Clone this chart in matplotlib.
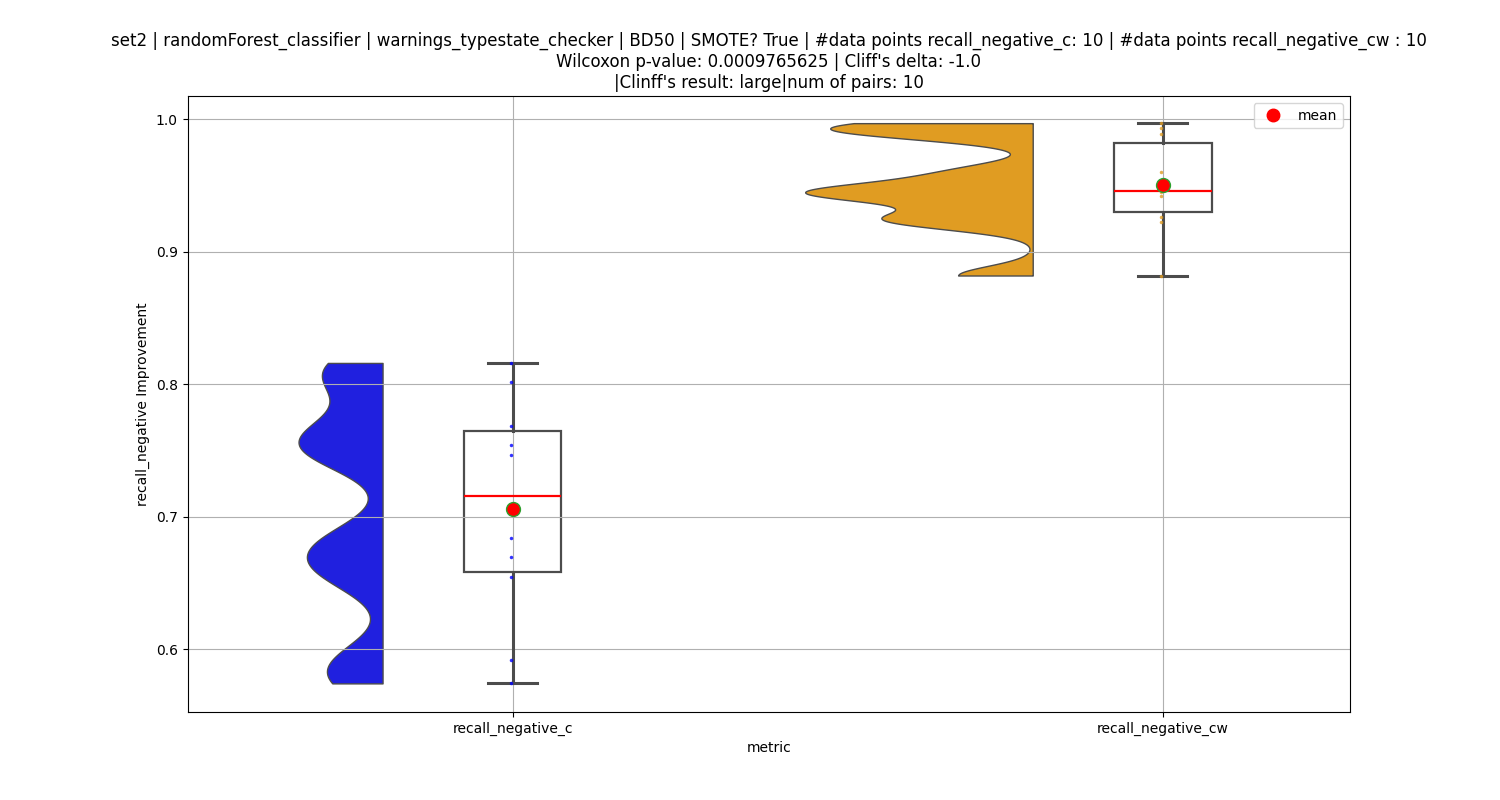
import matplotlib
import numpy as np

matplotlib.use("Agg")
import matplotlib.pyplot as plt
from matplotlib.lines import Line2D

categories = ["recall_negative_c", "recall_negative_cw"]
values_c = [0.816, 0.8015, 0.7685, 0.7537, 0.7464, 0.684, 0.6694, 0.6546, 0.5919, 0.5741]
values_cw = [0.997, 0.993, 0.989, 0.960, 0.9465, 0.945, 0.942, 0.926, 0.9225, 0.882]
colors = ["#2020df", "#e09c22"]
title = ("set2 | randomForest_classifier | warnings_typestate_checker | BD50 | SMOTE? True | "
         "#data points recall_negative_c: 10 | #data points recall_negative_cw : 10\n"
         "Wilcoxon p-value: 0.0009765625 | Cliff's delta: -1.0\n"
         "|Clinff's result: large|num of pairs: 10")

BW = 0.2
VIOL_HALF = 0.35
VIOL_OFFSET = 0.2
BOX_W = 0.15


# kde like scipy gaussian_kde(bw_method=0.2), cut at data range
def kde(data, n=300):
    data = np.asarray(data)
    bw = BW * data.std(ddof=1)
    grid = np.linspace(data.min(), data.max(), n)
    dens = np.exp(-0.5 * ((grid[:, None] - data[None, :]) / bw) ** 2).sum(axis=1)
    dens /= len(data) * bw * np.sqrt(2 * np.pi)
    return grid, dens


def main():
    fig, ax = plt.subplots(figsize=(15, 8), dpi=100)
    all_data = [values_c, values_cw]
    kdes = [kde(d) for d in all_data]
    dmax = max(k[1].max() for k in kdes)

    for i, (d, (grid, dens)) in enumerate(zip(all_data, kdes)):
        edge = i - VIOL_OFFSET
        w = dens / dmax * VIOL_HALF
        ax.fill_betweenx(grid, edge - w, edge, facecolor=colors[i], edgecolor="#4c4c4c",
                         linewidth=1, zorder=1)

    ax.boxplot(all_data, positions=[0, 1], widths=BOX_W, patch_artist=True,
               showfliers=False, manage_ticks=False,
               boxprops=dict(facecolor="white", edgecolor="#4c4c4c", linewidth=1.6, zorder=1),
               whiskerprops=dict(color="#4c4c4c", linewidth=2.2),
               capprops=dict(color="#4c4c4c", linewidth=2.2),
               medianprops=dict(color="red", linewidth=1.6))

    for i, d in enumerate(all_data):
        ax.plot(np.full(len(d), i - 0.002), d, "o", color=colors[i] if i else "blue",
                markersize=2.5, alpha=0.8, markeredgewidth=0, zorder=3)
        ax.plot(i, np.mean(d), "o", markerfacecolor="red", markeredgecolor="#2ca02c",
                markersize=10, markeredgewidth=1, zorder=4)

    ax.set_xticks([0, 1])
    ax.set_xticklabels(categories)
    ax.set_xlim(-0.5, 1.288)
    ax.set_ylim(0.5525, 1.0175)
    ax.set_yticks([0.6, 0.7, 0.8, 0.9, 1.0])
    ax.grid(True, color="#b0b0b0", linewidth=0.8)
    ax.set_xlabel("metric")
    ax.set_ylabel("recall_negative Improvement")
    ax.set_title(title, fontsize=12)

    handle = Line2D([], [], marker="o", color="red", linestyle="none", markersize=9, label="mean")
    ax.legend(handles=[handle], loc="upper right")

    fig.savefig("out.png", dpi=100)
    plt.close(fig)


if __name__ == "__main__":
    main()
